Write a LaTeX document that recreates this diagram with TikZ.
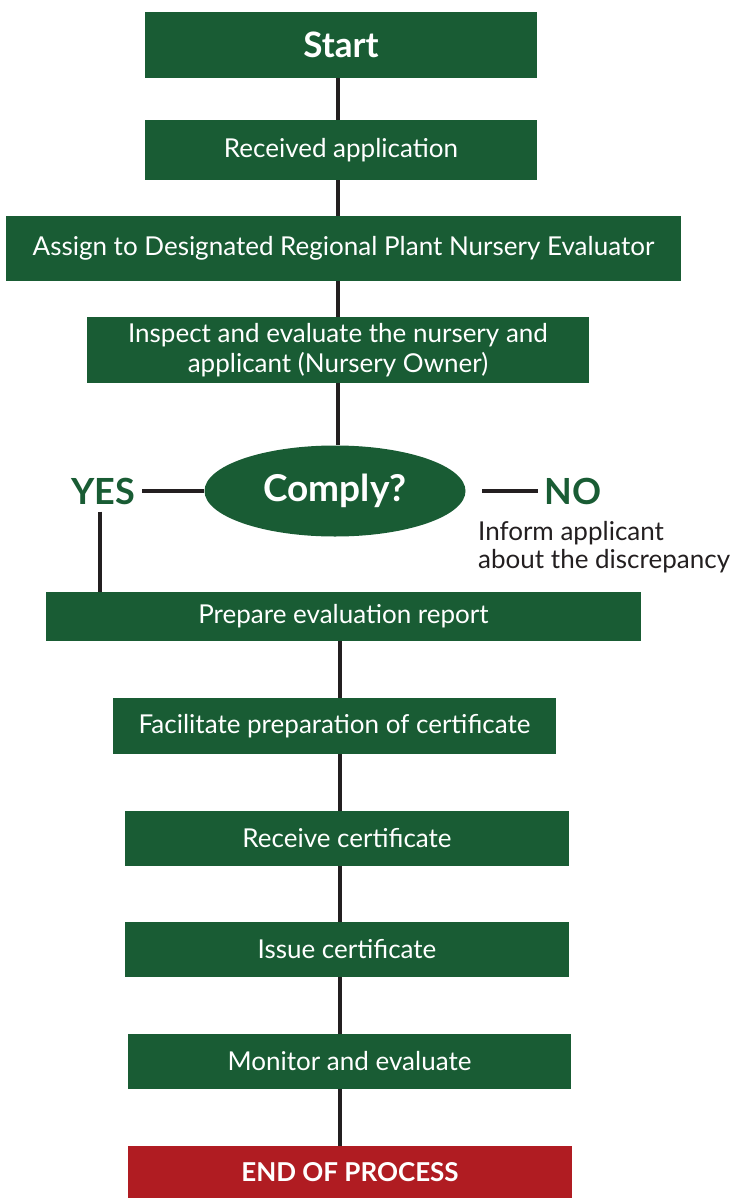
\documentclass[tikz,border=0pt]{standalone}
\usepackage{fontspec}
\setmainfont{Lato}
\usetikzlibrary{shapes.geometric}
\definecolor{leafgreen}{HTML}{195C34}
\definecolor{endred}{HTML}{B01C22}
\definecolor{linegray}{HTML}{231F20}
\begin{document}
\begin{tikzpicture}[x=1pt, y=-1pt,
	stepbox/.style={rectangle, fill=leafgreen, text=white, inner sep=0pt, font=\fontsize{26}{30}\selectfont},
	endbox/.style={rectangle, fill=endred, text=white, inner sep=0pt, font=\fontsize{26}{30}\selectfont\bfseries},
	decide/.style={ellipse, fill=leafgreen, text=white, inner sep=0pt, minimum width=261pt, minimum height=91pt, font=\fontsize{37}{42}\selectfont\bfseries},
	answer/.style={text=leafgreen, inner sep=0pt, font=\fontsize{36}{40}\selectfont\bfseries},
	link/.style={draw=linegray, line width=4pt},
	]
	\useasboundingbox (0,0) rectangle (740,1198);
	
	%Nodes
	\node[stepbox, minimum width=392pt, minimum height=66pt, font=\fontsize{35}{40}\selectfont\bfseries]	(start)		at (341,45)		{Start};
	\node[stepbox, minimum width=392pt, minimum height=60pt]	(received)	at (341,150)	{Received application};
	\node[stepbox, minimum width=675pt, minimum height=65pt]	(assign)	at (343.5,248.5)	{Assign to Designated Regional Plant Nursery Evaluator};
	\node[stepbox, minimum width=502pt, minimum height=66pt, align=center]	(inspect)	at (338,350)	{Inspect and evaluate the nursery and\\applicant (Nursery Owner)};
	\node[decide]		(comply)	at (335,491)	{Comply?};
	\node[answer]		(yes)		at (103,491)	{YES};
	\node[answer]		(no)		at (573,491)	{NO};
	\coordinate			(nostart)	at (482,491);
	\node[anchor=north west, inner sep=0pt, align=left, text=linegray, font=\fontsize{26}{28}\selectfont]	(inform)	at (478,521)	{Inform applicant\\about the discrepancy};
	\node[stepbox, minimum width=595pt, minimum height=49pt]	(prepare)	at (343.5,616.5)	{Prepare evaluation report};
	\node[stepbox, minimum width=443pt, minimum height=56pt]	(facilitate)	at (334.5,726)	{Facilitate preparation of certificate};
	\node[stepbox, minimum width=444pt, minimum height=55pt]	(receive)	at (347,838.5)	{Receive certificate};
	\node[stepbox, minimum width=444pt, minimum height=55pt]	(issue)		at (347,949.5)	{Issue certificate};
	\node[stepbox, minimum width=443pt, minimum height=55pt]	(monitor)	at (349.5,1061.5)	{Monitor and evaluate};
	\node[endbox, minimum width=444pt, minimum height=52pt]	(finish)	at (350,1172)	{END OF PROCESS};
	
	%Lines
	\draw[link] (start.south -| 338,0) -- (received.north -| 338,0);
	\draw[link] (received.south -| 338,0) -- (assign.north -| 338,0);
	\draw[link] (assign.south -| 338,0) -- (inspect.north -| 338,0);
	\draw[link] (inspect.south -| 338,0) -- (comply.north -| 338,0);
	\draw[link] ([xshift=7pt]yes.east) -- (comply.west);
	\draw[link] (nostart) -- ([xshift=-6pt]no.west);
	\draw[link] ([yshift=-7pt]yes.south -| 100,0) -- (prepare.north -| 100,0);
	\draw[link] (prepare.south -| 340,0) -- (facilitate.north -| 340,0);
	\draw[link] (facilitate.south -| 340,0) -- (receive.north -| 340,0);
	\draw[link] (receive.south -| 340,0) -- (issue.north -| 340,0);
	\draw[link] (issue.south -| 340,0) -- (monitor.north -| 340,0);
	\draw[link] (monitor.south -| 340,0) -- (finish.north -| 340,0);
	
\end{tikzpicture}
\end{document}
